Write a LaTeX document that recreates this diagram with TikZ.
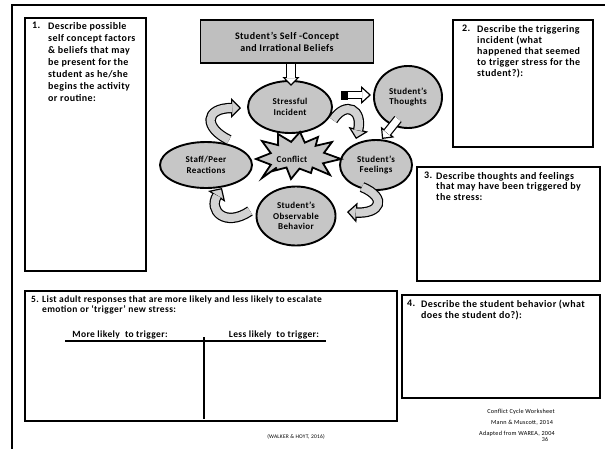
\documentclass[tikz,border=0pt]{standalone}
\usepackage{fontspec}
\setmainfont{Carlito}[LetterSpace=4]
\usetikzlibrary{arrows.meta,shapes.geometric}

\begin{document}
\begin{tikzpicture}[x=1pt,y=-1pt,
  frameline/.style={line width=2pt},
  panel/.style={draw, line width=2.4pt},
  ell/.style={ellipse, draw, line width=1.9pt, fill=gray!45, inner sep=0pt,
    align=center, font=\bfseries\fontsize{9}{10.5}\selectfont},
  numtxt/.style={anchor=north west, inner sep=0pt, align=left,
    font=\bfseries\fontsize{10}{12}\selectfont},
  foot/.style={inner sep=0pt, font=\fontsize{6.2}{7}\selectfont},
  % block arrows: a thin path carrying the head, then a wide double shaft over it
  headw/.style={line width=1.2pt, -{Triangle[width=20pt,length=10pt,fill=#1]}},
  shaftw/.style={line width=1.2pt, double=#1, double distance=8pt, shorten >=9pt},
]
\useasboundingbox (0,0) rectangle (605,448);
\clip (0,0) rectangle (605,448);

% outer page frame
\draw[frameline] (12,470) -- (12,5) -- (620,5);

% numbered answer panels
\draw[panel] (25,18) rectangle (146,271);
\draw[panel] (453,20) rectangle (593,147);
\draw[panel] (417,167) rectangle (600,281);
\draw[panel] (402,295) rectangle (600,398);
\draw[panel] (25,291) rectangle (397,421);

\node[numtxt] (n1) at (32,22) {1.};
\node[numtxt] (t1) at (48,22) {Describe possible\\self concept factors\\\& beliefs that may\\be present for the\\student as he/she\\begins the activity\\or routine:};

\node[numtxt, font=\bfseries\fontsize{10}{11}\selectfont] (n2) at (462,25) {2.};
\node[numtxt, font=\bfseries\fontsize{10}{11}\selectfont] (t2) at (477,25) {Describe the triggering\\incident (what\\happened that seemed\\to trigger stress for the\\student?):};

\node[numtxt, font=\bfseries\fontsize{10}{10.5}\selectfont] (n3) at (424,172) {3.};
\node[numtxt, font=\bfseries\fontsize{10}{10.5}\selectfont] (t3) at (436,172) {Describe thoughts and feelings\\that may have been triggered by\\the stress:};

\node[numtxt, font=\bfseries\fontsize{10}{10.5}\selectfont] (n4) at (407,300) {4.};
\node[numtxt, font=\bfseries\fontsize{10}{10.5}\selectfont] (t4) at (421,300) {Describe the student behavior (what\\does the student do?):};

\node[numtxt, font=\bfseries\fontsize{9.5}{9.5}\selectfont] (n5) at (31,296) {5.};
\node[numtxt, font=\bfseries\fontsize{9.5}{9.5}\selectfont] (t5) at (42,296) {List adult responses that are more likely and less likely to escalate\\emotion or ‘trigger’ new stress:};

% two-column table in panel 5
\node[inner sep=0pt, anchor=base, font=\bfseries\fontsize{9.5}{10}\selectfont] (more) at (120,337) {More likely\ \ to trigger:};
\node[inner sep=0pt, anchor=base, font=\bfseries\fontsize{9.5}{10}\selectfont] (less) at (274,337) {Less likely\ \ to trigger:};
\coordinate (ul) at (65,341);
\coordinate (ur) at (326,341);
\coordinate (vt) at (204,337);
\coordinate (vb) at (204,419);
\draw[line width=2pt] (ul) -- (ur);
\draw[line width=2pt] (vt) -- (vb);

% title box
\node[draw, line width=1.8pt, fill=gray!50, minimum width=173pt, minimum height=43pt,
  align=center, font=\bfseries\fontsize{10}{12}\selectfont] (self) at (287,41.5)
  {Student’s Self -Concept\\and Irrational Beliefs};

% cycle stages
\node[ell, minimum width=84pt, minimum height=52pt] (stress) at (290,107) {Stressful\\Incident};
\node[ell, minimum width=68pt, minimum height=62pt] (thoughts) at (408,97) {Student’s\\Thoughts};
\node[ell, minimum width=72pt, minimum height=50pt] (feel) at (376,165) {Student’s\\Feelings};
\node[ell, minimum width=92pt, minimum height=46pt] (staff) at (206,165) {Staff/Peer\\Reactions};
\node[ell, minimum width=79pt, minimum height=59pt] (behav) at (296,216) {Student’s\\Observable\\Behavior};

% conflict burst
\draw[line width=1.8pt, fill=gray!45, line join=miter]
  (256,159) -- (270.8,153.1) -- (262,141) -- (278.1,145.1) -- (278,134) -- (291.1,141.9)
  -- (300,132) -- (304.8,142.6) -- (318,137) -- (315.6,145.8) -- (332,142) -- (324,152.8)
  -- (341,159) -- (323,163.3) -- (330,175) -- (312.5,167.5) -- (311,173) -- (299.5,168.6)
  -- (291,179) -- (286.5,167.5) -- (273,171) -- (276.7,167.5) -- (262,178) -- (270.8,164.7)
  -- cycle;
\node[inner sep=0pt, font=\bfseries\fontsize{9}{10}\selectfont] (conflict) at (292,159) {Conflict};

% straight white block arrows
\coordinate (d1) at (self.south -| 291,0);
\coordinate (d2) at (291,86);
\draw[line width=1.2pt, -{Triangle[width=17pt,length=9pt,fill=white]}] (d1) -- (d2);
\draw[line width=1.2pt, double=white, double distance=8pt, shorten >=8pt] (d1) -- (d2);

\coordinate (r1) at (348,95);
\coordinate (r2) at (371,95);
\fill (341,90.5) rectangle (348,99.5);
\draw[line width=1.2pt, -{Triangle[width=18pt,length=10pt,fill=white]}] (r1) -- (r2);
\draw[line width=1.2pt, double=white, double distance=6.5pt, shorten >=9pt] (r1) -- (r2);

\coordinate (c1) at (398,119);
\coordinate (c2) at (382,139);
\draw[line width=1.2pt, -{Triangle[width=17pt,length=9pt,fill=white]}] (c1) -- (c2);
\draw[line width=1.2pt, double=white, double distance=7pt, shorten >=8pt] (c1) -- (c2);

% curved grey arrows around the cycle
\coordinate (a1) at (229,140);
\coordinate (a2) at (241,108);
\draw[headw=gray!35] (a1) .. controls (204,128) and (204,108) .. (a2);
\draw[shaftw=gray!35] (a1) .. controls (204,128) and (204,108) .. (a2);

\coordinate (b1) at (333,120);
\coordinate (b2) at (356,139);
\draw[headw=gray!35] (b1) .. controls (346,100) and (363,110) .. (b2);
\draw[shaftw=gray!35] (b1) .. controls (346,100) and (363,110) .. (b2);

\coordinate (e1) at (362,187);
\coordinate (e2) at (347,212);
\draw[headw=gray!35] (e1) .. controls (388,198) and (380,214) .. (e2);
\draw[shaftw=gray!35] (e1) .. controls (388,198) and (380,214) .. (e2);

\coordinate (f1) at (250,211);
\coordinate (f2) at (222,188);
\draw[headw=gray!35] (f1) .. controls (225,228) and (208,210) .. (f2);
\draw[shaftw=gray!35] (f1) .. controls (225,228) and (208,210) .. (f2);

% credits
\node[inner sep=0pt, font=\fontsize{5.5}{6}\selectfont] (walker) at (296,437) {(WALKER \& HOYT, 2016)};
\node[foot] (w1) at (521,412) {Conflict Cycle Worksheet};
\node[foot] (w2) at (522,423) {Mann \& Muscott, 2014};
\node[foot] (w3) at (517,434) {Adapted from WAREA, 2004};
\node[foot, font=\fontsize{6}{6}\selectfont] (pg) at (545,439) {36};
\end{tikzpicture}
\end{document}
